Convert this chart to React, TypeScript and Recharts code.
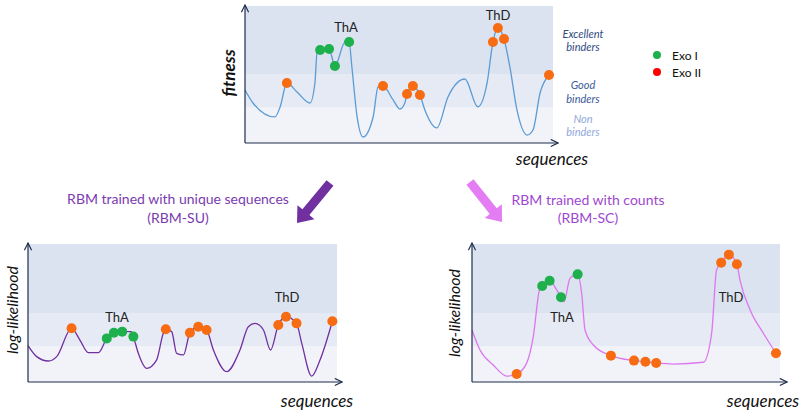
import React from 'react';
import { LineChart, Line, XAxis, YAxis, ReferenceArea } from 'recharts';

// fitness landscape (top)
const topX = [0, 2.6, 9.7, 11.4, 13.6, 16.9, 21.1, 22.7, 23.4, 24.4, 27.3, 29.2, 32.5, 33.8, 34.7, 36.4, 38.3, 41.6, 43.2, 44.8, 48.1, 50.3, 51.9, 52.6, 54.5, 56.8, 58.4, 62.3, 65.9, 71.4, 75.6, 78.6, 80.5, 82.1, 84.1, 86.0, 88.3, 91.6, 93.5, 95.8, 98.7];
const topY = [38.7, 29.2, 19.0, 26.3, 43.8, 37.2, 29.2, 43.8, 66.4, 67.9, 68.6, 56.2, 73.7, 73.7, 55.5, 19.0, 4.4, 19.0, 40.9, 41.6, 31.4, 24.8, 29.2, 35.8, 41.6, 35.0, 24.1, 11.0, 33.6, 46.7, 26.3, 43.8, 73.7, 84.0, 75.9, 55.5, 24.1, 5.8, 9.5, 36.5, 49.6];
const topExoI = [9, 10, 11, 13];
const topExoII = [4, 19, 23, 24, 25, 32, 33, 34, 40];

// RBM-SU (bottom left)
const suX = [0, 2.8, 6.6, 9.3, 14.1, 16.8, 19.5, 22.8, 25.5, 27.8, 30.5, 33.5, 34.1, 35.7, 38.4, 41.6, 43.8, 44.6, 46.5, 48.1, 50.3, 52.4, 55.1, 57.8, 60.0, 64.3, 68.6, 71.3, 73.5, 76.2, 78.5, 81.0, 83.5, 86.9, 88.6, 91.8, 94.5, 98.5];
const suY = [26.3, 18.4, 15.2, 18.4, 38.9, 30.4, 21.3, 21.3, 31.6, 35.7, 36.5, 36.5, 32.9, 20.8, 9.9, 15.9, 35.3, 38.2, 36.5, 20.8, 19.6, 35.7, 40.1, 37.7, 23.2, 7.5, 23.2, 40.1, 42.5, 37.7, 23.2, 41.3, 47.3, 42.5, 28.0, 4.3, 15.9, 44.0];
const suExoI = [8, 9, 10, 12];
const suExoII = [4, 17, 21, 22, 23, 31, 32, 33, 37];

// RBM-SC (bottom right)
const scX = [0, 2.6, 6.9, 11.3, 14.5, 17.7, 19.9, 21.9, 22.8, 25.2, 27.5, 28.9, 29.9, 31.8, 34.3, 35.6, 36.7, 39.4, 45.1, 52.6, 56.3, 59.8, 65.4, 75.1, 77.8, 79.4, 80.9, 83.4, 86.0, 87.0, 90.3, 94.6, 98.7];
const scY = [37.7, 23.2, 12.3, 4.3, 5.8, 13.5, 32.9, 66.7, 69.6, 73.4, 66.7, 61.4, 58.2, 75.1, 78.0, 64.3, 37.7, 26.8, 19.1, 15.5, 14.7, 13.8, 13.0, 14.3, 35.3, 81.2, 86.5, 92.3, 85.3, 73.9, 52.2, 35.3, 20.8];
const scExoI = [8, 9, 11, 14];
const scExoII = [4, 18, 19, 20, 21, 26, 27, 28, 32];

const bandEdges = [0, 26, 50, 100];
const bandFills = ['#f1f3f9', '#e6eaf4', '#dbe2f0'];

const AXIS = '#1f2d4d';
const GREEN = '#1eb04c';
const ORANGE = '#f76c12';
const FONT = 'Lato, "Open Sans", sans-serif';

// panel boxes: left, top, plot width, plot height, band width
const TOP = { left: 245, top: 6, pw: 313, ph: 137, bandW: 308 };
const SU = { left: 28, top: 244, pw: 314, ph: 138, bandW: 309 };
const SC = { left: 472, top: 244, pw: 315, ph: 138, bandW: 308 };

const renderDot = (p: any) => {
  const k = `d${p.index}`;
  if (!p.payload.m) return <g key={k} />;
  return <circle key={k} cx={p.cx} cy={p.cy} r={5} fill={p.payload.m === 'g' ? GREEN : ORANGE} />;
};

type Box = { left: number; top: number; pw: number; ph: number; bandW: number };
type PanelProps = { box: Box; xs: number[]; ys: number[]; exoI: number[]; exoII: number[]; color: string };

function Panel({ box, xs, ys, exoI, exoII, color }: PanelProps) {
  const { left, top, pw, ph, bandW } = box;
  const data = xs.map((x, i) => ({
    x,
    y: ys[i],
    m: exoI.includes(i) ? 'g' : exoII.includes(i) ? 'o' : '',
  }));
  const xMax = (100 * pw) / bandW;
  return (
    <div style={{ position: 'absolute', left: left - 10, top: top - 10 }}>
      <LineChart width={pw + 20} height={ph + 20} data={data} margin={{ top: 10, right: 10, bottom: 10, left: 10 }}>
        <XAxis type="number" dataKey="x" domain={[0, xMax]} hide />
        <YAxis type="number" domain={[0, 100]} hide />
        {bandFills.map((f, i) => (
          <ReferenceArea key={i} x1={0} x2={100} y1={bandEdges[i]} y2={bandEdges[i + 1]}
            fill={f} fillOpacity={1} stroke="none" ifOverflow="visible" />
        ))}
        <Line type="monotone" dataKey="y" stroke={color} strokeWidth={1.3} dot={renderDot}
          activeDot={false} isAnimationActive={false} />
      </LineChart>
    </div>
  );
}

function Axes({ box }: { box: Box }) {
  const { left, top, pw, ph } = box;
  const b = top + ph;
  return (
    <g stroke={AXIS} strokeWidth={1.2} fill="none">
      <line x1={left} y1={b} x2={left} y2={top - 1} markerEnd="url(#arr)" />
      <line x1={left} y1={b} x2={left + pw} y2={b} markerEnd="url(#arr)" />
    </g>
  );
}

function arrow(x1: number, y1: number, x2: number, y2: number, shaft: number, headW: number, headL: number) {
  const len = Math.hypot(x2 - x1, y2 - y1);
  const ux = (x2 - x1) / len, uy = (y2 - y1) / len;
  const nx = -uy, ny = ux;
  const bx = x2 - ux * headL, by = y2 - uy * headL;
  const s = shaft / 2, h = headW / 2;
  const pts = [
    [x1 + nx * s, y1 + ny * s], [bx + nx * s, by + ny * s], [bx + nx * h, by + ny * h],
    [x2, y2], [bx - nx * h, by - ny * h], [bx - nx * s, by - ny * s], [x1 - nx * s, y1 - ny * s],
  ];
  return pts.map((p) => p.join(',')).join(' ');
}

export default function App() {
  const txt = (x: number, y: number, s: string, size: number, extra: any = {}) => (
    <text x={x} y={y} textAnchor="middle" dominantBaseline="central" fontSize={size} fontFamily={FONT} fill="#222" {...extra}>{s}</text>
  );
  return (
    <div style={{ position: 'absolute', left: 0, top: 0, width: 800, height: 411, background: '#fff', overflow: 'hidden' }}>
      <Panel box={TOP} xs={topX} ys={topY} exoI={topExoI} exoII={topExoII} color="#5b9bd5" />
      <Panel box={SU} xs={suX} ys={suY} exoI={suExoI} exoII={suExoII} color="#7030a0" />
      <Panel box={SC} xs={scX} ys={scY} exoI={scExoI} exoII={scExoII} color="#dd77ee" />
      <svg width={800} height={411} style={{ position: 'absolute', left: 0, top: 0, pointerEvents: 'none' }}>
        <defs>
          <marker id="arr" viewBox="0 0 10 10" refX="9" refY="5" markerWidth="9" markerHeight="9"
            orient="auto" markerUnits="userSpaceOnUse">
            <path d="M1,1 L9,5 L1,9" fill="none" stroke={AXIS} strokeWidth="1.3" />
          </marker>
        </defs>
        <Axes box={TOP} />
        <Axes box={SU} />
        <Axes box={SC} />
        {txt(346, 27, 'ThA', 13)}
        {txt(498, 15, 'ThD', 13)}
        {txt(117, 317, 'ThA', 13)}
        {txt(287, 297, 'ThD', 13)}
        {txt(562, 317, 'ThA', 13)}
        {txt(731, 297, 'ThD', 13)}
        <g transform="translate(228,73) rotate(-90)">{txt(0, 0, 'fitness', 17, { fontWeight: 700, fontStyle: 'italic', fill: '#111' })}</g>
        <g transform="translate(11,310) rotate(-90)">{txt(0, 0, 'log-likelihood', 16, { fontStyle: 'italic', fill: '#111' })}</g>
        <g transform="translate(453,313) rotate(-90)">{txt(0, 0, 'log-likelihood', 16, { fontStyle: 'italic', fill: '#111' })}</g>
        {txt(552, 158, 'sequences', 17, { fontStyle: 'italic', fill: '#111' })}
        {txt(317, 400, 'sequences', 17, { fontStyle: 'italic', fill: '#111' })}
        {txt(763, 400, 'sequences', 17, { fontStyle: 'italic', fill: '#111' })}
        {txt(583, 33, 'Excellent', 11, { fontStyle: 'italic', fill: '#2f4a7f' })}
        {txt(583, 46, 'binders', 11, { fontStyle: 'italic', fill: '#2f4a7f' })}
        {txt(583, 84, 'Good', 11, { fontStyle: 'italic', fill: '#3a5a9a' })}
        {txt(583, 98, 'binders', 11, { fontStyle: 'italic', fill: '#3a5a9a' })}
        {txt(583, 118, 'Non', 11, { fontStyle: 'italic', fill: '#8fa8dc' })}
        {txt(583, 131, 'binders', 11, { fontStyle: 'italic', fill: '#8fa8dc' })}
        <circle cx={657} cy={55} r={4} fill={GREEN} />
        <circle cx={657} cy={72} r={4} fill="#ff0000" />
        <text x={672} y={55} dominantBaseline="central" fontSize={12} fontFamily={FONT} fill="#111">Exo I</text>
        <text x={672} y={72} dominantBaseline="central" fontSize={12} fontFamily={FONT} fill="#111">Exo II</text>
        {txt(178, 198, 'RBM trained with unique sequences', 14, { fill: '#7a3bb0' })}
        {txt(178, 217, '(RBM-SU)', 14, { fill: '#7a3bb0' })}
        {txt(588, 199, 'RBM trained with counts', 14, { fill: '#9e48d0' })}
        {txt(588, 217, '(RBM-SC)', 14, { fill: '#9e48d0' })}
        <polygon points={arrow(330, 183, 297, 223, 9, 22, 14)} fill="#7030a0" />
        <polygon points={arrow(470, 182, 502, 222, 9, 22, 14)} fill="#e47cf3" />
      </svg>
    </div>
  );
}
